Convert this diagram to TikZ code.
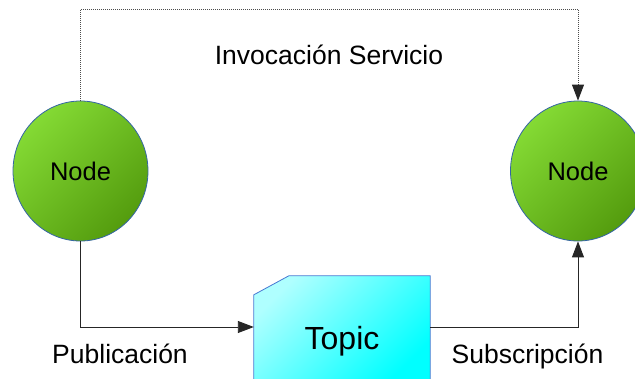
\documentclass[tikz,border=0pt]{standalone}
\usepackage{fontspec}
\setmainfont{Liberation Sans}
\usetikzlibrary{shapes.geometric,arrows.meta,calc}
\definecolor{glight}{RGB}{132,218,52}
\definecolor{gdark}{RGB}{84,156,14}
\definecolor{clight}{RGB}{175,255,255}
\definecolor{cdark}{RGB}{0,255,255}
\definecolor{cborder}{RGB}{52,101,164}
\definecolor{tborder}{RGB}{70,120,210}
\tikzset{
  nodecircle/.style={ellipse, minimum width=135pt, minimum height=140pt, inner sep=0pt,
    draw=cborder, line width=0.8pt, top color=glight, bottom color=gdark, shading angle=45,
    font=\fontsize{25.5}{30}\selectfont},
  lbl/.style={anchor=base, font=\fontsize{26.5}{31}\selectfont},
  conn/.style={draw=black!85, line width=0.9pt},
  tip/.style={-{Triangle[length=16pt,width=12pt]}},
}
\begin{document}
\begin{tikzpicture}[x=1pt,y=-1pt]
\useasboundingbox (0,0) rectangle (635,378);
\node[nodecircle] (n1) at (80.5,171) {Node};
\node[nodecircle] (n2) at (578,171) {Node};
\node[minimum width=176pt, minimum height=102pt, inner sep=0pt] (topic) at (342,327) {};
\path[draw=tborder, line width=0.8pt, top color=clight, bottom color=cdark, shading angle=45]
  ($(topic.north west)+(0,19)$) -- ($(topic.north west)+(35,0)$) -- (topic.north east)
  -- ($(topic.south east)+(0,4)$) -- ($(topic.south west)+(0,4)$) -- cycle;
\node[anchor=base, font=\fontsize{32}{36}\selectfont] (topictext) at (342,349) {Topic};
\coordinate (tl) at (80.5,9);
\coordinate (tr) at (578,9);
\draw[draw=black!70, line width=0.8pt, dash pattern=on 1pt off 1pt] (n1.north) -- (tl) -- (tr) -- ($(n2.north)+(0,-16)$);
\draw[conn, tip] ($(n2.north)+(0,-16)$) -- (n2.north);
\draw[conn, tip] (n1.south) |- (topic.west);
\draw[conn, tip] (topic.east) -| (n2.south);
\node[lbl] (inv) at (329,64) {Invocación Servicio};
\node[lbl] (pub) at (120,363) {Publicación};
\node[lbl] (sub) at (527.5,363) {Subscripción};
\end{tikzpicture}
\end{document}
